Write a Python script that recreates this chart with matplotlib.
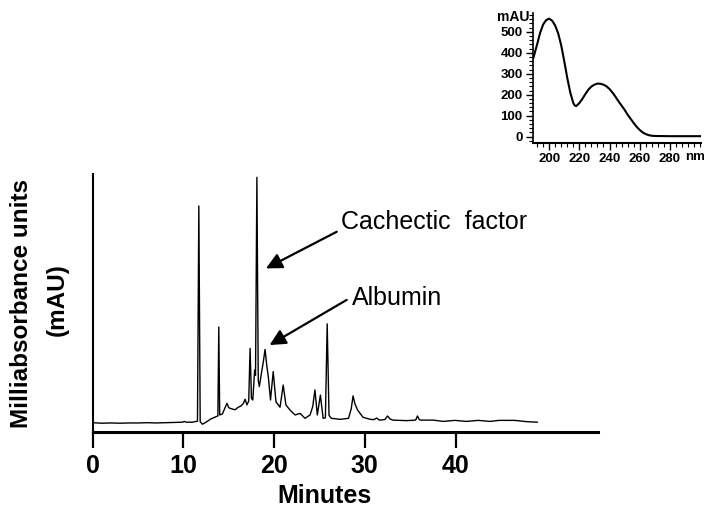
import matplotlib
matplotlib.use("Agg")
import matplotlib.pyplot as plt
from matplotlib.ticker import MultipleLocator

plt.rcParams['font.family'] = ['Liberation Sans', 'DejaVu Sans']

# Chromatogramm (Minuten, relative Absorption in % der Achsenhoehe)
zeit = [0.0, 1.0, 2.0, 3.0, 4.0, 5.0, 6.0, 7.0, 8.0, 9.0, 9.9, 10.1, 10.3, 11.0,
        11.55, 11.7, 11.85, 12.1, 12.5, 13.0, 13.5, 13.8, 13.9, 14.0, 14.3, 14.6,
        14.8, 15.0, 15.3, 15.7, 16.0, 16.3, 16.6, 16.8, 17.0, 17.2, 17.35, 17.5,
        17.65, 17.85, 17.95, 18.1, 18.25, 18.37, 18.6, 18.8, 19.0, 19.2, 19.36,
        19.6, 19.9, 20.2, 20.65, 21.0, 21.3, 21.75, 22.3, 22.86, 23.4, 23.96,
        24.25, 24.5, 24.76, 25.1, 25.4, 25.65, 25.85, 26.05, 26.3, 27.3, 28.2,
        28.5, 28.7, 28.9, 29.2, 29.8, 30.6, 31.0, 31.3, 31.6, 32.2, 32.5, 32.8,
        33.1, 34.6, 35.6, 35.8, 36.0, 36.2, 37.55, 38.65, 39.9, 41.2, 42.5,
        43.8, 44.8, 46.5, 47.85, 49.0]
absorption = [3.6, 3.4, 3.5, 3.4, 3.5, 3.5, 3.6, 3.5, 3.6, 3.7, 3.8, 4.1, 3.8, 3.8,
              4.2, 87.6, 4.0, 3.0, 3.8, 5.0, 5.8, 6.2, 40.7, 6.6, 7.0, 9.5,
              11.1, 9.4, 9.0, 8.6, 9.5, 10.0, 11.0, 12.7, 10.5, 12.0, 32.4, 13.0,
              12.4, 24.0, 22.0, 98.7, 20.0, 17.6, 22.8, 27.0, 32.0, 25.5, 21.4,
              12.4, 23.4, 11.7, 9.6, 18.2, 10.5, 8.5, 6.6, 7.2, 5.3, 6.6,
              9.8, 16.3, 6.6, 14.3, 5.3, 5.5, 41.9, 6.5, 5.3, 4.9, 5.3,
              9.0, 14.0, 11.0, 8.5, 5.7, 4.9, 4.8, 5.4, 4.6, 4.8, 6.2, 5.0,
              4.6, 4.4, 4.6, 6.2, 4.8, 4.6, 4.6, 4.1, 4.5, 4.1, 4.5,
              4.1, 4.5, 4.5, 4.0, 3.8]

x_ticks = [0, 10, 20, 30, 40]

# UV-Spektrum (Inset)
wellenlaenge = [189.5, 192, 194, 196, 198, 200, 202, 204, 206, 208, 210, 212,
                214, 216, 217, 218, 220, 222, 224, 226, 228, 230, 232, 234, 236,
                238, 240, 242, 244, 246, 248, 250, 252, 254, 256, 258, 260, 262,
                264, 266, 268, 270, 280, 300]
mau = [375, 440, 495, 535, 556, 563, 553, 530, 492, 435, 360, 280,
       210, 160, 148, 146, 160, 180, 203, 224, 239, 248, 253, 252, 248,
       240, 227, 210, 190, 168, 148, 128, 105, 85, 65, 47, 32, 20,
       12, 7, 4, 3, 2, 2]

fig = plt.figure(figsize=(7.06, 5.09), dpi=100)

# Hauptdiagramm
ax = fig.add_axes([0.1313, 0.1513, 0.7157, 0.5069])
ax.plot(zeit, absorption, color='black', lw=1.0)
ax.set_xlim(0, 55.7)
ax.set_ylim(0, 100)
for s in ['top', 'right']:
    ax.spines[s].set_visible(False)
ax.spines['left'].set_linewidth(1.5)
ax.spines['bottom'].set_linewidth(2.2)
ax.set_yticks([])
ax.set_xticks(x_ticks)
ax.set_xticklabels([str(t) for t in x_ticks], fontsize=18, fontweight='bold')
ax.tick_params(axis='x', direction='out', length=11.5, width=1.6, pad=4)
ax.set_xlabel('Minutes', fontsize=18, fontweight='bold', va='center')
ax.xaxis.set_label_coords(0.458, -0.248)

fig.text(22 / 706, 1 - 303 / 509, 'Milliabsorbance units', rotation=90,
         ha='center', va='center', fontsize=17.5, fontweight='bold')
fig.text(57 / 706, 1 - 300 / 509, '(mAU)', rotation=90,
         ha='center', va='center', fontsize=17.5, fontweight='bold')

pfeil = dict(arrowstyle='-|>', color='black', lw=1.6, mutation_scale=24,
             shrinkA=0, shrinkB=0)
ax.annotate('', xy=(19.1, 63.4), xytext=(26.9, 77.6), arrowprops=pfeil)
ax.annotate('', xy=(19.5, 33.7), xytext=(28.0, 51.2), arrowprops=pfeil)
ax.text(27.4, 81.4, 'Cachectic  factor', fontsize=18, va='center', ha='left')
ax.text(28.6, 51.9, 'Albumin', fontsize=18, va='center', ha='left')

# Inset
ins = fig.add_axes([0.755, 0.7197, 0.238, 0.2548])
ins.plot(wellenlaenge, mau, color='black', lw=1.5)
ins.set_xlim(189.3, 300.7)
ins.set_ylim(-29, 590)
for s in ['top', 'right']:
    ins.spines[s].set_visible(False)
ins.spines['left'].set_linewidth(1.2)
ins.spines['bottom'].set_linewidth(1.5)
ins.set_xticks([200, 220, 240, 260, 280])
ins.set_yticks([0, 100, 200, 300, 400, 500])
ins.xaxis.set_minor_locator(MultipleLocator(4))
ins.yaxis.set_minor_locator(MultipleLocator(20))
ins.tick_params(which='major', length=5, width=1.0, labelsize=9.5, pad=2.5)
ins.tick_params(which='minor', length=3, width=0.8)
for lab in ins.get_xticklabels() + ins.get_yticklabels():
    lab.set_fontweight('bold')
fig.text(685 / 706, 1 - 157 / 509, 'nm', fontsize=9.5, fontweight='bold',
         ha='left', va='center')
fig.text(529 / 706, 1 - 17 / 509, 'mAU', fontsize=10, fontweight='bold',
         ha='right', va='center')

fig.savefig('out.png', dpi=100)
